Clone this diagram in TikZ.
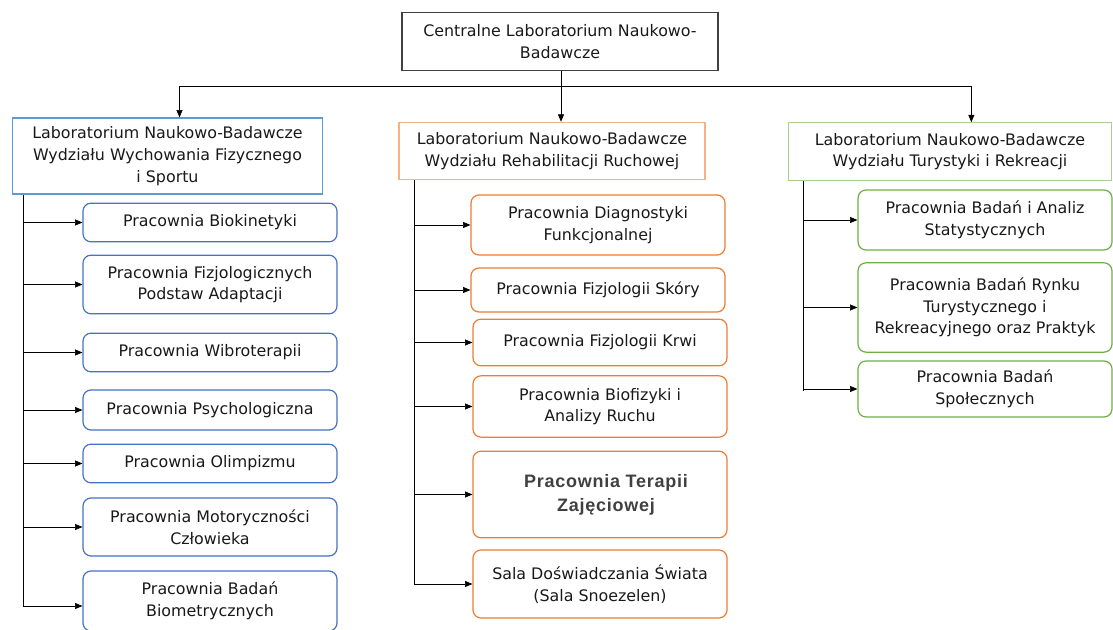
\documentclass[tikz,border=0pt]{standalone}
\usepackage{fontspec}
\setmainfont{DejaVu Sans}
\newfontfamily\boldsans[LetterSpace=4]{Liberation Sans}
\usepackage{xcolor}
\usepackage{tikz}
\usetikzlibrary{arrows.meta}
\usetikzlibrary{positioning}

\definecolor{wfblue}{HTML}{5B9BD5}
\definecolor{wfbluedark}{HTML}{4472C4}
\definecolor{wrorange}{HTML}{F4B183}
\definecolor{wrorangedark}{HTML}{ED7D31}
\definecolor{wtgreen}{HTML}{A9D18E}
\definecolor{wtgreendark}{HTML}{70AD47}

\tikzset{
  txt/.style={font=\fontsize{11.9}{16.3}\selectfont, text=black!90, align=center},
  headbox/.style={txt, draw=#1, line width=0.9pt, minimum height=43pt, inner sep=2pt},
  labbox/.style={txt, draw=#1, line width=0.9pt, rounded corners=6pt, minimum width=190.5pt, inner sep=2pt},
  arr/.style={-{Triangle[length=5.5pt,width=4.5pt]}, line width=0.5pt}
}

\begin{document}
\begin{tikzpicture}[x=0.75pt, y=-0.75pt]
                                \useasboundingbox (0,0) rectangle (1113,630);
                                \node[headbox=black!75, minimum width=237pt] (top) at (560,41.5)
                                                {Centralne Laboratorium Naukowo-\\Badawcze};
                                \node[headbox=wfblue, minimum width=233pt, minimum height=57pt] (wf) at (167.5,156)
                                                {Laboratorium Naukowo-Badawcze\\Wydziału Wychowania Fizycznego\\i Sportu};
                                \node[headbox=wrorange, minimum width=229.5pt] (wr) at (552,151)
                                                {Laboratorium Naukowo-Badawcze\\Wydziału Rehabilitacji Ruchowej};
                                \node[headbox=wtgreen, minimum width=242pt] (wt) at (950,151.5)
                                                {Laboratorium Naukowo-Badawcze\\Wydziału Turystyki i Rekreacji};

                                \node[labbox=wfbluedark, minimum height=29pt] (wf1) at (210,222.5) {Pracownia Biokinetyki};
                                \node[labbox=wfbluedark, minimum height=44pt] (wf2) at (210,284.5) {Pracownia Fizjologicznych\\Podstaw Adaptacji};
                                \node[labbox=wfbluedark, minimum height=29pt] (wf3) at (210,352.5) {Pracownia Wibroterapii};
                                \node[labbox=wfbluedark, minimum height=30pt] (wf4) at (210,410) {Pracownia Psychologiczna};
                                \node[labbox=wfbluedark, minimum height=29pt] (wf5) at (210,463.5) {Pracownia Olimpizmu};
                                \node[labbox=wfbluedark, minimum height=43.5pt] (wf6) at (210,527) {Pracownia Motoryczności\\Człowieka};
                                \node[labbox=wfbluedark, minimum height=45pt] (wf7) at (210,601) {Pracownia Badań\\Biometrycznych};

                                \node[labbox=wrorangedark, minimum height=45pt] (wr1) at (598,225) {Pracownia Diagnostyki\\Funkcjonalnej};
                                \node[labbox=wrorangedark, minimum height=33pt] (wr2) at (598,290) {Pracownia Fizjologii Skóry};
                                \node[labbox=wrorangedark, minimum height=35pt] (wr3) at (600,342.5) {Pracownia Fizjologii Krwi};
                                \node[labbox=wrorangedark, minimum height=46pt] (wr4) at (600,406.5) {Pracownia Biofizyki i\\Analizy Ruchu};
                                \node[labbox=wrorangedark, minimum height=65pt, font=\boldsans\bfseries\fontsize{13.5}{18}\selectfont, text=black!75] (wr5) at (600,494.5)
                                                {\hspace*{9pt}Pracownia Terapii\\\hspace*{9pt}Zajęciowej};
                                \node[labbox=wrorangedark, minimum height=51pt] (wr6) at (600,584) {Sala Doświadczania Świata\\(Sala Snoezelen)};

                                \node[labbox=wtgreendark, minimum height=45pt] (wt1) at (985,220) {Pracownia Badań i Analiz\\Statystycznych};
                                \node[labbox=wtgreendark, minimum height=67pt] (wt2) at (985,307.5) {Pracownia Badań Rynku\\Turystycznego i\\Rekreacyjnego oraz Praktyk};
                                \node[labbox=wtgreendark, minimum height=42pt] (wt3) at (985,389) {Pracownia Badań\\Społecznych};

                                \coordinate (bus) at (561,86);
                                \coordinate (wftrunk) at (23,606);
                                \coordinate (wrtrunk) at (414,584);
                                \coordinate (wttrunk) at (803,391);

                                \draw[line width=0.5pt] (top.south -| bus) -- (bus);
                                \draw[arr] (bus) -| ([xshift=9pt]wf.north);
                                \draw[arr] (bus) -- (bus |- wr.north);
                                \draw[arr] (bus) -| ([xshift=16pt]wt.north);

                                \draw[line width=0.5pt] (wf.south -| wftrunk) -- (wftrunk);
                                \draw[line width=0.5pt] (wr.south -| wrtrunk) -- (wrtrunk);
                                \draw[line width=0.5pt] (wt.south -| wttrunk) -- (wttrunk);
                                \foreach \n in {wf1,wf2,wf3,wf4,wf5,wf6}
                                                \draw[arr] (wftrunk |- \n.west) -- (\n.west);
                                \draw[arr] (wftrunk) -- (wftrunk -| wf7.west);
                                \foreach \n in {wr1,wr2,wr3,wr4,wr5,wr6}
                                                \draw[arr] (wrtrunk |- \n.west) -- (\n.west);
                                \foreach \n in {wt1,wt2,wt3}
                                                \draw[arr] (wttrunk |- \n.west) -- (\n.west);
                        \end{tikzpicture}
\end{document}
